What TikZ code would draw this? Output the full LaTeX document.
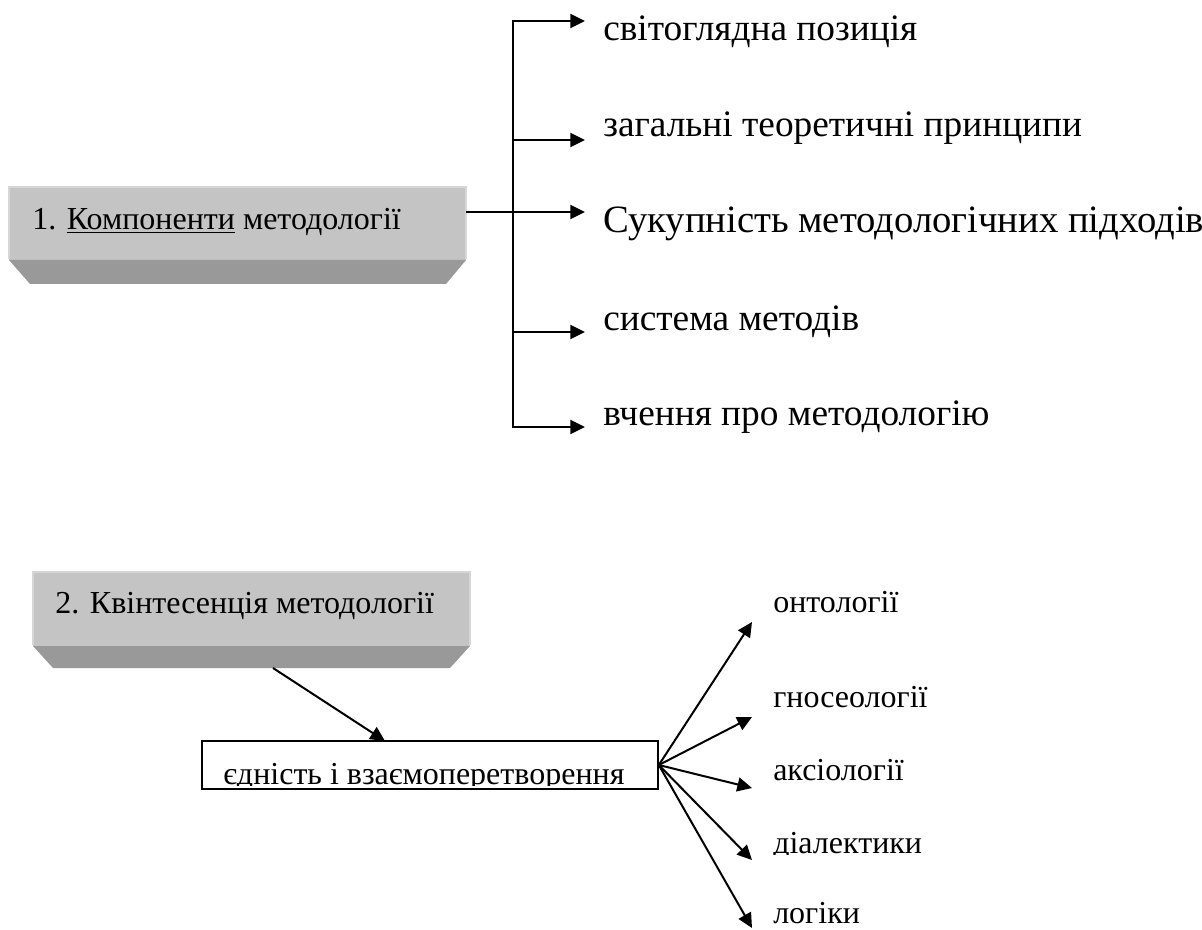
\documentclass[tikz,border=0pt]{standalone}
\usepackage{fontspec}
\newfontfamily\tnr{Liberation Serif}
\usetikzlibrary{arrows.meta}
\definecolor{facegray}{RGB}{196,196,196}
\definecolor{bevelgray}{RGB}{153,153,153}
\definecolor{edgegray}{RGB}{214,214,214}
\tikzset{
  conn/.style={line width=1.5pt,-{Triangle[length=11pt,width=10.5pt]}},
  trunk/.style={line width=1.5pt,line cap=rect},
  txt/.style={anchor=base west,inner sep=0pt},
  boxtxt/.style={txt,font=\tnr\fontsize{24}{28}\selectfont},
  labtxt/.style={txt,font=\tnr\fontsize{28}{32}\selectfont},
  bigtxt/.style={txt,font=\tnr\fontsize{29}{33}\selectfont},
  smalltxt/.style={txt,font=\tnr\fontsize{24}{28}\selectfont},
}
\begin{document}
\begin{tikzpicture}[x=0.75pt,y=0.75pt,yscale=-1]
\useasboundingbox (0,0) rectangle (1202,930);

%Shape: Bevel box 1
\fill [facegray] (9,187) rectangle (466,260) ;
\fill [bevelgray] (9,260) -- (466,260) -- (446,284) -- (30,284) -- cycle ;
\draw [edgegray,line width=1.2pt] (9,259) -- (9,187) -- (466,187) -- (466,259) ;

%Shape: Bevel box 2
\fill [facegray] (33,572) rectangle (470,646) ;
\fill [bevelgray] (33,646) -- (470,646) -- (450,668) -- (53,668) -- cycle ;
\draw [edgegray,line width=1.2pt] (33,645) -- (33,572) -- (470,572) -- (470,645) ;

% Text Node
\draw (32,230) node [boxtxt] (comp) {1. \underline{Компоненти} методології};
% Text Node
\draw (55,613) node [boxtxt] (quint) {2. Квінтесенція методології};

%Points of the tree
\coordinate (out) at (466,212) ;
\coordinate (tr1) at (513,21) ;
\coordinate (tr2) at (513,140) ;
\coordinate (tr5) at (513,427) ;
\coordinate (tr4) at (513,332) ;
\coordinate (a1) at (585,21) ;
\coordinate (a2) at (585,140) ;
\coordinate (a3) at (585,212) ;
\coordinate (a4) at (585,332) ;
\coordinate (a5) at (585,427) ;

% Text Node
\draw (603,41) node [labtxt] (view) {світоглядна позиція};
% Text Node
\draw (603,137) node [labtxt] (princ) {загальні теоретичні принципи};
% Text Node
\draw (603,233) node [bigtxt] (appr) {Сукупність методологічних підходів};
% Text Node
\draw (603,330) node [labtxt] (meth) {система методів};
% Text Node
\draw (603,425) node [labtxt] (doct) {вчення про методологію};

%Straight Lines
\draw [trunk] (tr1) -- (tr5) ;
\draw [conn] (tr1) -- (a1) ;
\draw [conn] (tr2) -- (a2) ;
\draw [conn] (out) -- (a3) ;
\draw [conn] (tr4) -- (a4) ;
\draw [conn] (tr5) -- (a5) ;

%Shape: Rectangle
\node [draw,line width=1.2pt,minimum width=342pt,minimum height=36pt,inner sep=0pt] (unity) at (430,765) {};
\begin{scope}
\clip (202,741) rectangle (658,785.5) ;
% Text Node
\draw (223,784.5) node [boxtxt] (unitytext) {єдність і взаємоперетворення};
\end{scope}

\coordinate (q) at (273,668) ;
\coordinate (u) at (385,741) ;
\draw [conn] (q) -- (u) ;

\coordinate (f1) at (752,622) ;
\coordinate (f2) at (752,717) ;
\coordinate (f3) at (752,788) ;
\coordinate (f4) at (752,860) ;
\coordinate (f5) at (752,928) ;
\foreach \f in {f1,f2,f3,f4,f5}
  \draw [conn] (unity.east) -- (\f) ;

% Text Node
\draw (773,612) node [smalltxt] (onto) {онтології};
% Text Node
\draw (773,707) node [smalltxt] (gnos) {гносеології};
% Text Node
\draw (773,780) node [smalltxt] (axio) {аксіології};
\begin{scope}
\clip (760,800) rectangle (950,854) ;
% Text Node
\draw (773,853) node [smalltxt] (dial) {діалектики};
\end{scope}
% Text Node
\draw (773,923) node [smalltxt] (logi) {логіки};

\end{tikzpicture}
\end{document}
